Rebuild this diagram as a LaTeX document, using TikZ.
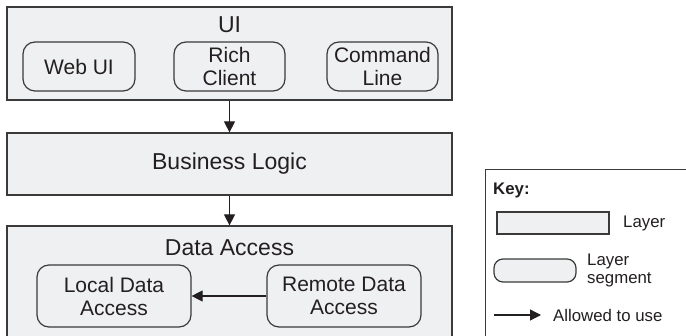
\documentclass[tikz,border=0pt]{standalone}
\usepackage{fontspec}
\setmainfont{Liberation Sans}
\usetikzlibrary{arrows.meta}
\definecolor{fillgray}{HTML}{EFF0F2}
\definecolor{linegray}{HTML}{3A3A3A}
\definecolor{ink}{HTML}{231F20}
\begin{document}
\begin{tikzpicture}[x=1pt,y=-1pt,
  layer/.style={draw=linegray,fill=fillgray,line width=1.2pt,inner sep=0pt},
  segment/.style={draw=linegray,fill=fillgray,line width=1.2pt,rounded corners=12pt,inner sep=0pt,
     align=center,text=ink,font=\fontsize{21}{23}\selectfont},
  title/.style={text=ink,font=\fontsize{23}{26}\selectfont,inner sep=0pt},
  keytext/.style={text=ink,font=\fontsize{16.8}{18}\selectfont,inner sep=0pt,anchor=west,align=left},
  uses/.style={draw=ink,line width=1.2pt,-{Triangle[length=11pt,width=11pt]}}]
\useasboundingbox (0,0) rectangle (686,336);
\clip (0,0) rectangle (686,336);
% layers
\node[layer,minimum width=445pt,minimum height=93pt] (ui) at (229.5,53.5) {};
\node[title] (uit) at (229.5,25) {UI};
\node[layer,minimum width=445pt,minimum height=62pt] (bl) at (229.5,164) {};
\node[title] (blt) at (229.5,164) {Business Logic};
\node[layer,minimum width=445pt,minimum height=130pt] (da) at (229.5,291) {};
\node[title] (dat) at (229.5,248) {Data Access};
% UI segments
\node[segment,minimum width=112pt,minimum height=49pt] (web) at (79,66.5) {Web UI};
\node[segment,minimum width=111pt,minimum height=49pt] (rich) at (229.5,66.5) {Rich\\Client};
\node[segment,minimum width=111pt,minimum height=49pt] (cmd) at (382.5,66.5) {Command\\Line};
% Data access segments
\node[segment,minimum width=154pt,minimum height=62pt] (local) at (114,296) {Local Data\\Access};
\node[segment,minimum width=154pt,minimum height=62pt] (remote) at (344,296) {Remote Data\\Access};
% connectors
\draw[uses] (ui.south) -- (bl.north);
\draw[uses] (bl.south) -- (da.north);
\draw[uses] (remote.west) -- (local.east);
% key
\node[layer,fill=white,minimum width=220pt,minimum height=180pt,anchor=north west] (key) at (485,169) {};
\node[keytext,font=\fontsize{16.8}{18}\selectfont\bfseries] (keyt) at (493,190) {Key:};
\node[layer,minimum width=112pt,minimum height=22pt] (klayer) at (553,223) {};
\node[keytext] (klayert) at (623,223) {Layer};
\node[segment,rounded corners=9pt,minimum width=82pt,minimum height=23pt] (kseg) at (535,270.5) {};
\node[keytext] (ksegt) at (587,270) {Layer\\segment};
\coordinate (ka) at (494,315);
\node[keytext] (karrt) at (553,315) {Allowed to use};
\draw[uses] (ka) -- ([xshift=-12pt]karrt.west);
\end{tikzpicture}
\end{document}
